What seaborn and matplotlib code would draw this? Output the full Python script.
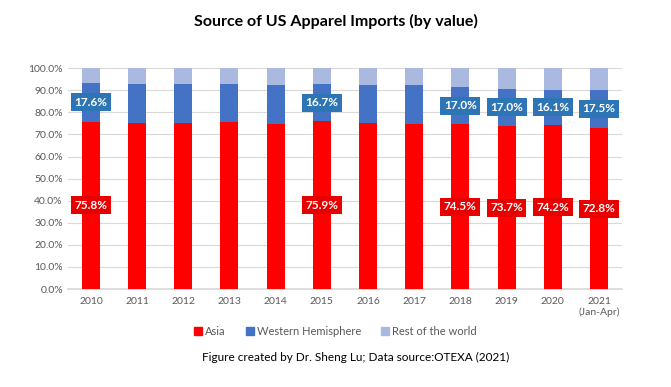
import matplotlib
matplotlib.use('Agg')
import matplotlib.pyplot as plt
import matplotlib.ticker as mtick
from matplotlib.patches import Patch
import seaborn as sns
import pandas as pd

YEARS = ['2010', '2011', '2012', '2013', '2014', '2015', '2016', '2017',
         '2018', '2019', '2020', '2021\n(Jan-Apr)']
ASIA = [75.8, 75.1, 75.1, 75.7, 74.7, 75.9, 75.1, 74.7, 74.5, 73.7, 74.2, 72.8]
WESTERN = [17.6, 17.7, 17.7, 17.1, 17.6, 16.7, 17.2, 17.6, 17.0, 17.0, 16.1, 17.5]
LABELED = ['2010', '2015', '2018', '2019', '2020', '2021\n(Jan-Apr)']

RED = '#FF0000'
BLUE = '#4472C4'
LIGHT = '#A9B9DF'
GREY = '#595959'


def main():
    sns.set_theme(style='white')
    plt.rcParams['font.family'] = ['Lato', 'DejaVu Sans']

    df = pd.DataFrame({'Year': YEARS, 'Asia': ASIA, 'Western': WESTERN})
    df['AsiaWest'] = df['Asia'] + df['Western']
    df['Total'] = 100.0

    fig = plt.figure(figsize=(6.71, 3.87), dpi=100)
    ax = fig.add_axes([0.101, 0.253, 0.826, 0.571])

    # stacked bars drawn back to front
    for col, c in [('Total', LIGHT), ('AsiaWest', BLUE), ('Asia', RED)]:
        sns.barplot(data=df, x='Year', y=col, color=c, width=0.39,
                    saturation=1, linewidth=0, ax=ax, zorder=3)

    for i, row in df.iterrows():
        if row['Year'] not in LABELED:
            continue
        ax.text(i, row['Asia'] / 2, '%.1f%%' % row['Asia'], ha='center',
                va='center', color='white', fontsize=8.5, fontweight='bold',
                zorder=5,
                bbox=dict(boxstyle='square,pad=0.3', fc='#E60000', ec='none'))
        ax.text(i, row['Asia'] + row['Western'] / 2,
                '%.1f%%' % row['Western'], ha='center', va='center',
                color='white', fontsize=8.5, fontweight='bold', zorder=5,
                bbox=dict(boxstyle='square,pad=0.3', fc='#2E75B6', ec='none'))

    ax.set_ylim(0, 100)
    ax.set_xlim(-0.5, len(YEARS) - 0.5)
    ax.set_yticks(range(0, 101, 10))
    ax.yaxis.set_major_formatter(mtick.FuncFormatter(lambda v, p: '%.1f%%' % v))
    ax.grid(axis='y', color='#D9D9D9', linewidth=0.8, zorder=0)
    ax.set_xlabel('')
    ax.set_ylabel('')
    ax.tick_params(axis='both', labelsize=7.5, labelcolor=GREY, length=0)
    ax.tick_params(axis='x', pad=6)
    sns.despine(ax=ax, left=True, bottom=False)
    ax.spines['bottom'].set_color('#D9D9D9')

    fig.text(0.5, 0.945, 'Source of US Apparel Imports (by value)',
             ha='center', va='center', fontsize=11.5, fontweight='bold',
             color='black')

    handles = [Patch(color=RED, label='Asia'),
               Patch(color=BLUE, label='Western Hemisphere'),
               Patch(color=LIGHT, label='Rest of the world')]
    fig.legend(handles=handles, loc='center', bbox_to_anchor=(0.5, 0.143),
               ncol=3, frameon=False, fontsize=8, labelcolor=GREY,
               handlelength=0.7, handleheight=0.7, handletextpad=0.3,
               columnspacing=1.8)

    fig.text(0.53, 0.075, 'Figure created by Dr. Sheng Lu; Data source:OTEXA (2021)',
             ha='center', va='center', fontsize=8.5, color='black')

    fig.savefig('out.png', dpi=100)


if __name__ == '__main__':
    main()
